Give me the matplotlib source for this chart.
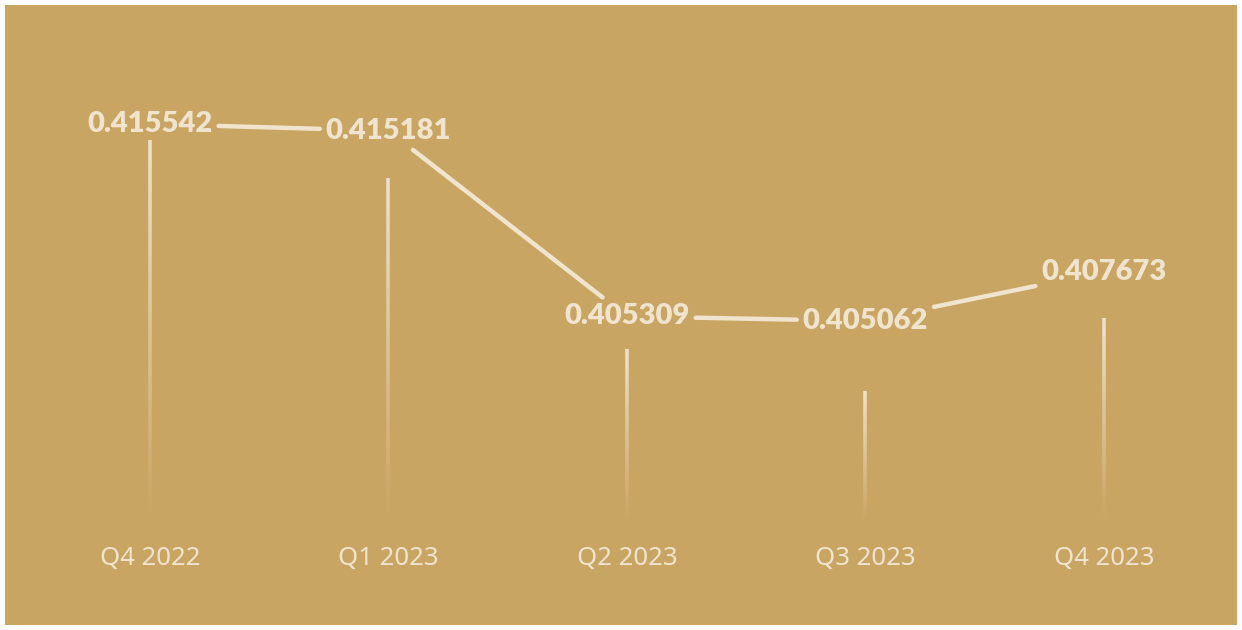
import numpy as np
import matplotlib
matplotlib.use("Agg")
import matplotlib.pyplot as plt
from matplotlib.collections import LineCollection
from matplotlib.patches import Rectangle
import matplotlib.transforms as mtransforms

quarters = ["Q4 2022", "Q1 2023", "Q2 2023", "Q3 2023", "Q4 2023"]
values = [0.415542, 0.415181, 0.405309, 0.405062, 0.407673]
# top of the faded stems (data units)
stem_tops = [0.414691, 0.412669, 0.403573, 0.401338, 0.405222]
stem_base = 0.394369

BG = "#C8A562"
FG = "#F1E4CF"

plt.rcParams["font.family"] = ["Noto Sans", "DejaVu Sans"]

fig = plt.figure(figsize=(12.42, 6.30), dpi=100, facecolor="white")
fig.patches.append(Rectangle((5 / 1242, 5 / 630), 1232 / 1242, 620 / 630,
                             transform=fig.transFigure, facecolor=BG,
                             edgecolor="none", zorder=-10))
ax = fig.add_axes([5 / 1242, 5 / 630, 1232 / 1242, 620 / 630])
ax.set_zorder(1)
ax.set_facecolor("none")
ax.set_xlim(-0.608, 4.558)
ax.set_ylim(0.388890, 0.421873)
ax.axis("off")

x = np.arange(len(values))

# faded stems
for xi, top in zip(x, stem_tops):
    ys = np.linspace(top, stem_base, 80)
    segs = [[(xi, ys[i]), (xi, ys[i + 1])] for i in range(len(ys) - 1)]
    alphas = np.linspace(0.95, 0.0, len(segs))
    cols = [matplotlib.colors.to_rgba(FG, a) for a in alphas]
    ax.add_collection(LineCollection(segs, colors=cols, linewidths=2.6,
                                     capstyle="butt"))

# value labels
texts = []
for xi, v in zip(x, values):
    t = ax.text(xi, v, f"{v:.6f}", ha="center", va="center", fontsize=21,
                fontweight="heavy", family=["Lato", "DejaVu Sans"],
                color=FG, zorder=3)
    texts.append(t)

# quarter labels
trans = mtransforms.blended_transform_factory(ax.transData, ax.transAxes)
for xi, q in zip(x, quarters):
    ax.text(xi, 0.108, q, ha="center", va="center", fontsize=18.5,
            color=FG, transform=trans)

# connecting line with gaps around labels
fig.canvas.draw()
renderer = fig.canvas.get_renderer()
gap = 6


def exit_t(p0, p1, bb):
    # param t at which segment from p0 (inside bb) leaves bb
    d = p1 - p0
    ts = []
    for k, lo, hi in ((0, bb.x0, bb.x1), (1, bb.y0, bb.y1)):
        if d[k] > 0:
            ts.append((hi - p0[k]) / d[k])
        elif d[k] < 0:
            ts.append((lo - p0[k]) / d[k])
    return min(ts)


inv = ax.transData.inverted()
for i in range(len(values) - 1):
    p0 = ax.transData.transform((x[i], values[i]))
    p1 = ax.transData.transform((x[i + 1], values[i + 1]))
    b0 = texts[i].get_window_extent(renderer).padded(gap)
    b1 = texts[i + 1].get_window_extent(renderer).padded(gap)
    t0 = exit_t(p0, p1, b0)
    t1 = 1 - exit_t(p1, p0, b1)
    if t1 <= t0:
        continue
    a = inv.transform(p0 + (p1 - p0) * t0)
    b = inv.transform(p0 + (p1 - p0) * t1)
    ax.plot([a[0], b[0]], [a[1], b[1]], color=FG, lw=3.2,
            solid_capstyle="round", zorder=2)

fig.savefig("out.png", dpi=100, facecolor="white")
